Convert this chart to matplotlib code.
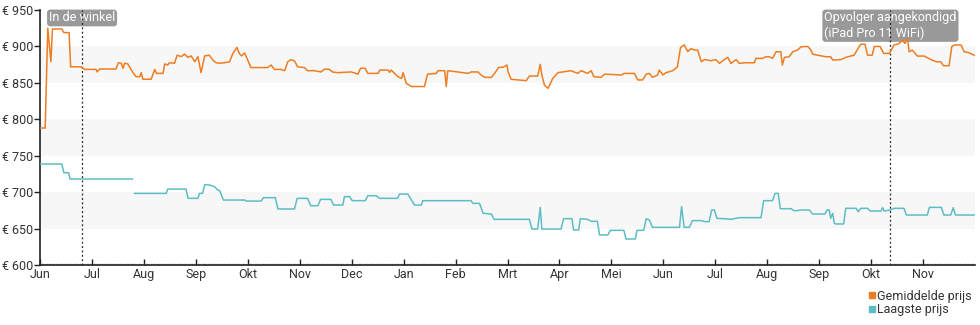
import matplotlib
matplotlib.use('Agg')
import matplotlib.pyplot as plt
import numpy as np

plt.rcParams['font.family'] = ['Roboto', 'DejaVu Sans']

# Months shown on the x axis (Jun 2017 .. Nov 2018), equally spaced
months = ['Jun', 'Jul', 'Aug', 'Sep', 'Okt', 'Nov', 'Dec', 'Jan', 'Feb',
          'Mrt', 'Apr', 'Mei', 'Jun', 'Jul', 'Aug', 'Sep', 'Okt', 'Nov']

# Gemiddelde prijs: time in months since 1 Jun 2017, price in euro
avg_t = [0.00, 0.10, 0.15, 0.21, 0.24, 0.42, 0.46, 0.56, 0.59, 0.79, 0.86, 1.08,
         1.10, 1.15, 1.46, 1.51, 1.56, 1.60, 1.63, 1.69, 1.79, 1.85, 1.92, 1.95,
         1.98, 2.14, 2.21, 2.24, 2.37, 2.40, 2.46, 2.49, 2.59, 2.64, 2.72, 2.78,
         2.85, 2.91, 2.98, 3.04, 3.10, 3.17, 3.26, 3.33, 3.39, 3.46, 3.55, 3.65,
         3.71, 3.79, 3.84, 3.88, 3.94, 4.00, 4.06, 4.38, 4.45, 4.51, 4.64, 4.71,
         4.77, 4.83, 4.90, 4.96, 5.09, 5.15, 5.28, 5.41, 5.48, 5.57, 5.63, 5.73,
         5.99, 6.12, 6.17, 6.26, 6.31, 6.51, 6.54, 6.70, 6.73, 6.76, 6.89, 6.96,
         6.99, 7.05, 7.15, 7.40, 7.46, 7.63, 7.66, 7.79, 7.82, 7.85, 8.04, 8.24,
         8.30, 8.43, 8.49, 8.56, 8.69, 8.75, 8.83, 8.91, 8.99, 9.01, 9.07, 9.36,
         9.42, 9.58, 9.63, 9.66, 9.71, 9.78, 9.87, 9.97, 10.22, 10.35, 10.42, 10.54,
         10.61, 10.66, 10.80, 10.87, 11.19, 11.25, 11.44, 11.51, 11.60, 11.67, 11.73, 11.79,
         11.89, 11.92, 11.99, 12.05, 12.18, 12.27, 12.33, 12.40, 12.47, 12.53, 12.60, 12.66,
         12.73, 12.79, 12.92, 13.01, 13.08, 13.17, 13.24, 13.30, 13.40, 13.46, 13.56, 13.75,
         13.78, 13.91, 13.97, 14.04, 14.10, 14.17, 14.26, 14.29, 14.33, 14.42, 14.49, 14.58,
         14.65, 14.78, 14.84, 14.87, 14.97, 15.13, 15.22, 15.26, 15.42, 15.51, 15.67, 15.77,
         15.80, 15.88, 15.93, 16.02, 16.06, 16.17, 16.24, 16.35, 16.44, 16.54, 16.60, 16.65,
         16.70, 16.73, 16.79, 16.89, 17.02, 17.15, 17.25, 17.34, 17.39, 17.50, 17.55, 17.60,
         17.73, 17.79, 17.88, 17.98]
avg_price = [788, 788, 925, 879, 924, 924, 919, 919, 872, 872, 868.5, 868.5,
             865, 869, 869, 877.6, 877, 870, 877, 876, 864, 858.5, 858.5, 864,
             855, 855, 868.5, 863, 863, 876, 874.5, 877.6, 877, 888, 886, 889.5,
             885, 887, 879, 886, 864, 887, 888, 881, 877.6, 877, 877.6, 879,
             890, 898.6, 890, 887, 891, 881, 871, 871, 874.5, 868.5, 868.5, 866.7,
             879, 882, 880, 872, 871, 866.7, 866.7, 865, 869, 868.5, 865, 864,
             865, 862, 870, 870, 863, 863, 867.6, 867.6, 864.4, 867.6, 858.5, 856,
             864, 849.4, 845, 845, 862, 863, 866.7, 866.7, 845, 866.7, 865, 863,
             865, 865, 860.8, 857.6, 857.6, 863, 871.3, 871.3, 874.5, 865, 854.9, 853,
             859.4, 859.4, 875.4, 860.8, 847, 842.5, 856, 864, 866.7, 863, 866.7, 863,
             866.7, 858.5, 857.6, 862, 860.8, 863, 863, 854, 854, 862, 863, 857.6,
             860.8, 867.6, 860.8, 864, 866.7, 872, 898.6, 902, 893, 897, 895, 895,
             879, 882, 880.4, 882, 876.7, 882, 885, 876.7, 882, 876.7, 877.6, 877.6,
             883.6, 883.6, 885.8, 885.8, 883.6, 892.7, 892.7, 874.5, 885, 885.8, 892.7, 895,
             899.5, 900, 895, 889.5, 888, 885.8, 885.8, 881.3, 882, 885, 888, 900,
             903, 903, 888, 888, 900, 900, 890.4, 890.4, 902, 904, 908.7, 904,
             911, 892.7, 895, 886.8, 886.8, 882, 879, 879, 873.6, 873.6, 899.5, 902,
             902, 892.7, 891.3, 888]

# Laagste prijs (NaN = no offer that day)
low_t = [0.00, 0.42, 0.46, 0.55, 0.58, 1.78, 1.80, 1.82, 2.43, 2.46, 2.81, 2.85,
         3.04, 3.07, 3.13, 3.17, 3.26, 3.36, 3.42, 3.46, 3.53, 3.94, 3.97, 4.26,
         4.30, 4.53, 4.58, 4.90, 4.95, 5.15, 5.21, 5.35, 5.40, 5.60, 5.65, 5.83,
         5.86, 5.96, 6.01, 6.26, 6.31, 6.47, 6.54, 6.88, 6.92, 7.08, 7.15, 7.21,
         7.34, 7.37, 8.30, 8.33, 8.46, 8.53, 8.69, 8.74, 9.42, 9.47, 9.58, 9.63,
         9.66, 10.03, 10.08, 10.24, 10.27, 10.37, 10.40, 10.54, 10.61, 10.73, 10.77, 10.93,
         10.98, 11.24, 11.28, 11.46, 11.49, 11.62, 11.67, 11.73, 11.79, 12.31, 12.35, 12.40,
         12.50, 12.56, 12.73, 12.79, 12.88, 12.93, 12.98, 13.03, 13.24, 13.30, 13.46, 13.88,
         13.93, 14.10, 14.15, 14.21, 14.25, 14.46, 14.51, 14.58, 14.62, 14.81, 14.87, 15.11,
         15.15, 15.19, 15.22, 15.26, 15.29, 15.32, 15.47, 15.51, 15.71, 15.75, 15.80, 15.93,
         15.98, 16.19, 16.22, 16.25, 16.37, 16.44, 16.63, 16.68, 17.08, 17.12, 17.35, 17.40,
         17.53, 17.58, 17.62, 17.98]
low_price = [738.6, 738.6, 726.7, 726.7, 718, 718, np.nan, 698.3, 698.3, 704.3, 704.3, 691.5,
             691.5, 698.3, 698.3, 710.2, 709.8, 707.5, 703, 702, 689.2, 689.2, 687.8, 687.8,
             692.4, 692.4, 676.9, 676.9, 691.5, 691.5, 681.4, 681.4, 690.1, 690.1, 682.3, 682.3,
             693.8, 693.8, 688.3, 688.3, 695.1, 695.1, 691.5, 691.5, 697.4, 697.4, 689.2, 682.3,
             682.3, 688.3, 688.3, 684.6, 684.6, 670.9, 670, 662.7, 662.7, 649.4, 649.4, 679.1,
             649.4, 649.4, 663.6, 663.6, 648.1, 648.1, 663.6, 662.7, 660, 660, 641.2, 641.2,
             647.6, 647.6, 635.7, 635.7, 647.6, 647.6, 663.6, 661.8, 651.7, 651.7, 680.1, 651.7,
             651.7, 660.9, 660.9, 659.5, 659.5, 675.5, 675.5, 664.1, 663.2, 662.7, 665, 665,
             688.3, 688.3, 698.3, 698.3, 677.3, 677.3, 674.6, 674.6, 675.5, 675.5, 670, 670,
             675.5, 675.5, 664.1, 670.9, 657.2, 656.3, 656.3, 677.8, 677.8, 673.2, 677.8, 677.8,
             674.1, 674.1, 678.7, 674.1, 675.5, 677.8, 677.8, 668.6, 668.6, 679.1, 679.1, 668.6,
             668.6, 678.7, 668.6, 668.6]

# Events marked with a dotted line
event_t = [0.81, 16.37]
event_labels = ['In de winkel', 'Opvolger aangekondigd\n(iPad Pro 11 WiFi)']

yticks = [600, 650, 700, 750, 800, 850, 900, 950]

colors = {
    'avg': '#ee7d22',
    'low': '#5dbdc4',
    'band': '#f7f7f7',
    'text': '#333333',
    'label_box': '#8e8e8e',
}

fig = plt.figure(figsize=(9.8, 3.25), dpi=100)
ax = fig.add_axes([0.0408, 0.1846, 0.9542, 0.7846])

# alternating bands
for lo in [650, 750, 850]:
    ax.axhspan(lo, lo + 50, color=colors['band'], zorder=0, lw=0)

ax.plot(avg_t, avg_price, color=colors['avg'], lw=1.1, zorder=4)
ax.plot(low_t, low_price, color=colors['low'], lw=1.1, zorder=4)

# event markers; labels sit under the price lines
for t, label in zip(event_t, event_labels):
    ax.axvline(t, color='#222222', lw=0.9, ls=(0, (1.5, 2)), zorder=3)
    ax.text(t, 948, label, ha='center', va='top', multialignment='left',
            fontsize=9, color='white', linespacing=1.2, zorder=2,
            bbox=dict(boxstyle='round,pad=0.15,rounding_size=0.25',
                      facecolor=colors['label_box'], edgecolor='none', alpha=0.9))

ax.set_xlim(0, 18)
ax.set_ylim(600, 950)
ax.set_xticks(range(len(months)))
ax.set_xticklabels(months)
ax.set_xticks(np.arange(0, 18, 1 / 30), minor=True)
ax.set_yticks(yticks)
ax.set_yticklabels(['€ %d' % v for v in yticks])

for side in ['top', 'right']:
    ax.spines[side].set_visible(False)
ax.spines['left'].set_color('#222222')
ax.spines['bottom'].set_color('#222222')
ax.spines['left'].set_linewidth(1.2)
ax.spines['bottom'].set_linewidth(1.2)

ax.tick_params(axis='x', which='major', direction='in', length=4, width=1,
               pad=2, labelsize=9, labelcolor=colors['text'], color='#222222')
ax.tick_params(axis='x', which='minor', direction='in', length=1.5, width=0.4,
               color='#aaaaaa')
ax.tick_params(axis='y', direction='out', length=4, width=1, pad=1,
               labelsize=9, labelcolor=colors['text'], color='#222222')

# legend with small squares, bottom right
handles = [plt.Line2D([], [], marker='s', ls='none', color=colors['avg'], markersize=5),
           plt.Line2D([], [], marker='s', ls='none', color=colors['low'], markersize=5)]
fig.legend(handles, ['Gemiddelde prijs', 'Laagste prijs'], loc='lower right',
           bbox_to_anchor=(1.0, 0.0), frameon=False, fontsize=9,
           handlelength=0.5, handletextpad=0.15, labelspacing=0.05,
           borderpad=0.2, labelcolor=colors['text'])

fig.savefig('out.png', dpi=100)
plt.close(fig)
